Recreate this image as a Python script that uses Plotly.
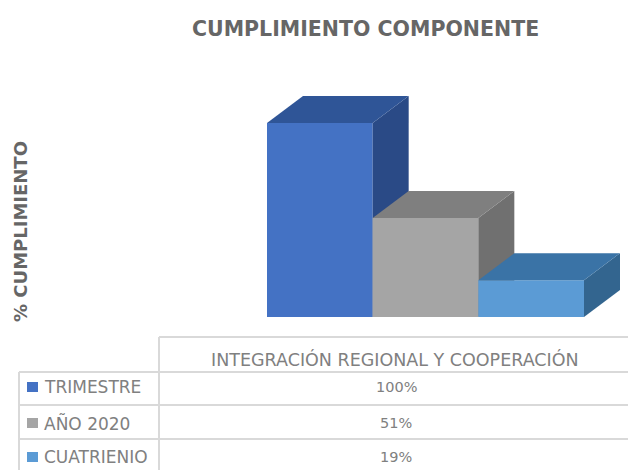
import plotly.graph_objects as go

series = ["TRIMESTRE", "AÑO 2020", "CUATRIENIO"]
values = [100, 51, 19]
value_labels = ["100%", "51%", "19%"]
category = "INTEGRACIÓN REGIONAL Y COOPERACIÓN"
title = "CUMPLIMIENTO COMPONENTE"
y_title = "% CUMPLIMIENTO"
front = ["#4472C4", "#A5A5A5", "#5B9BD5"]
top = ["#2F5597", "#7F7F7F", "#3A73A6"]
side = ["#2A4A86", "#707070", "#33658F"]

W, H = 628, 470
X0, X1 = 267, 584
BASE, TOP100 = 317, 123
px_per_x = (X1 - X0) / 3
px_per_y = (BASE - TOP100) / 100
DX = 36 / px_per_x
DY = 27 / px_per_y
XR = 622
YT = 88

fig = go.Figure()
axis_layout = {}
for i, (name, v) in enumerate(zip(series, values)):
    suffix = "" if i == 0 else str(i + 1)
    xa, ya = "x" + suffix, "y" + suffix
    l, r = i - 0.5, i + 0.5
    fig.add_trace(go.Scatter(x=[r, r + DX, r + DX, r, r], y=[0, DY, v + DY, v, 0], mode="lines", xaxis=xa, yaxis=ya,
                             fill="toself", fillcolor=side[i], line=dict(width=0), hoverinfo="skip", showlegend=False))
    fig.add_trace(go.Scatter(x=[l, l + DX, r + DX, r, l], y=[v, v + DY, v + DY, v, v], mode="lines", xaxis=xa, yaxis=ya,
                             fill="toself", fillcolor=top[i], line=dict(width=0), hoverinfo="skip", showlegend=False))
    fig.add_trace(go.Bar(x=[i], y=[v], width=1, name=name, marker=dict(color=front[i], line=dict(width=0)),
                         xaxis=xa, yaxis=ya, showlegend=False))
    xd = dict(domain=[X0 / W, XR / W], range=[-0.5, -0.5 + (XR - X0) / px_per_x], visible=False, fixedrange=True)
    yd = dict(domain=[1 - BASE / H, 1 - YT / H], range=[0, (BASE - YT) / px_per_y], visible=False, fixedrange=True)
    if i:
        xd.update(overlaying="x", anchor=ya)
        yd.update(overlaying="y", anchor=xa)
    axis_layout["xaxis" + suffix] = xd
    axis_layout["yaxis" + suffix] = yd

GRID = "#D9D9D9"
TXT = "#808080"
FONT = "DejaVu Sans"
def hline(y, x0, x1, w=2):
    fig.add_shape(type="line", xref="paper", yref="paper", x0=x0 / W, x1=x1 / W, y0=1 - y / H, y1=1 - y / H,
                  line=dict(color=GRID, width=w))
def vline(x, y0, y1, w=2):
    fig.add_shape(type="line", xref="paper", yref="paper", x0=x / W, x1=x / W, y0=1 - y0 / H, y1=1 - y1 / H,
                  line=dict(color=GRID, width=w))
def text(x, y, s, size=12, color=TXT, anchor="center", angle=0, bold=False):
    fig.add_annotation(xref="paper", yref="paper", x=x / W, y=1 - y / H, text=f"<b>{s}</b>" if bold else s,
                       showarrow=False, xanchor=anchor, yanchor="middle", textangle=angle,
                       font=dict(size=size, color=color, family=FONT))

row_lines = [372, 405, 439]
hline(337, 159, W)
for y in row_lines:
    hline(y, 19, W)
vline(19, 372, H)
vline(159, 337, H)
text(395, 359, category, size=17.5)
row_text_y = [387, 423, 457]
for name, lab, c, y in zip(series, value_labels, front, row_text_y):
    fig.add_shape(type="rect", xref="paper", yref="paper", x0=27 / W, x1=38 / W,
                  y0=1 - (y + 5) / H, y1=1 - (y - 5) / H, fillcolor=c, line=dict(width=0))
    text(42, y, name, size=17, anchor="left")
    text(396, y, lab, size=14.5)
text(365, 29, title, size=20.5, color="#666666", bold=True)
text(20, 232, y_title, size=18, color="#666666", angle=-90, bold=True)

fig.update_layout(
    width=W, height=H, margin=dict(l=0, r=0, t=0, b=0), autosize=False,
    paper_bgcolor="white", plot_bgcolor="white", barmode="overlay",
    showlegend=False, **axis_layout,
)
fig.write_html("out.html", config=dict(displayModeBar=False),
               post_script="document.body.style.margin='0';document.documentElement.style.overflow='hidden';")
